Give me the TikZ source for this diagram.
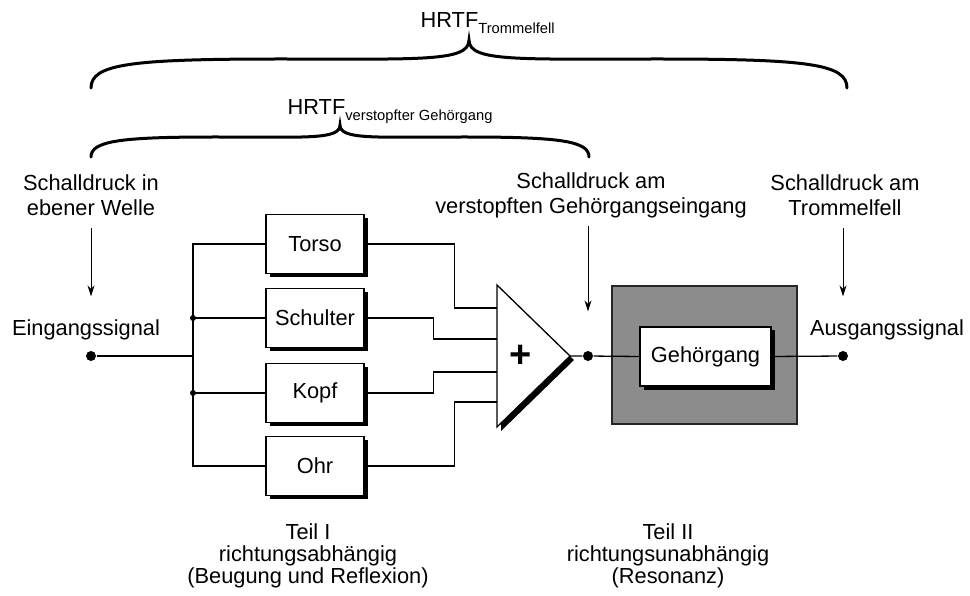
\documentclass[tikz,border=0pt]{standalone}
\usepackage{fontspec}
\setmainfont{Liberation Sans}
\usetikzlibrary{arrows.meta,shadows,positioning}
\tikzset{block/.style={rectangle,draw,fill=white,line width=1.3pt,minimum width=98pt,minimum height=59pt,inner sep=0pt,
            font=\fontsize{21.8}{25}\selectfont,drop shadow={shadow xshift=3.5pt,shadow yshift=-3.5pt,fill=black,opacity=1}},
         graybox/.style={rectangle,draw=black!85,fill=black!45,line width=1.3pt,minimum width=185pt,minimum height=138pt},
         caption/.style={align=center,inner sep=0pt,font=\fontsize{21.8}{25}\selectfont},
         undertext/.style={align=center,inner sep=0pt,font=\fontsize{21.8}{22}\selectfont},
         dot/.style={circle,fill=black,minimum size=10pt,inner sep=0pt},
         junction/.style={circle,fill=black,minimum size=6pt,inner sep=0pt},
         brace/.style={line width=3pt,line cap=round}
}

\begin{document}
\begin{tikzpicture}[x=1pt,y=-1pt,line width=1.3pt,>={Stealth[length=11pt,width=7pt]}]
\useasboundingbox (0,0) rectangle (970,596);

% Klammern oben
\node[caption,anchor=base west] (hrtf1) at (420,28) {HRTF\raisebox{-6pt}{\fontsize{14.7}{16}\selectfont Trommelfell}};
\draw[brace] (91,88) .. controls (91,64) and (130,59) .. (280,59) .. controls (420,59) and (469,62) .. (469,40)
             .. controls (469,62) and (518,59) .. (658,59) .. controls (808,59) and (847,64) .. (847,88);
\node[caption,anchor=base west] (hrtf2) at (287,115) {HRTF\raisebox{-6pt}{\fontsize{14.7}{16}\selectfont verstopfter Gehörgang}};
\draw[brace] (91,157) .. controls (91,141) and (120,137) .. (215,137) .. controls (305,137) and (340,140) .. (340,125)
             .. controls (340,140) and (375,137) .. (465,137) .. controls (560,137) and (589,141) .. (589,157);

% Beschriftungen
\node[caption] (schall1) at (91,195) {Schalldruck in\\ebener Welle};
\node[caption] (schall2) at (591,195) {Schalldruck am\\verstopften Gehörgangseingang};
\node[caption] (schall3) at (845,195) {Schalldruck am\\Trommelfell};
\node[caption] (eing) at (86,330) {Eingangssignal};
\node[caption] (aus) at (887,330) {Ausgangssignal};

% Teil I
\node[dot] (in) at (91,356) {};
\coordinate (bus) at (193,356);
\node[block] (torso) at (315,244) {Torso};
\node[block] (schulter) at (315,318) {Schulter};
\node[block] (kopf) at (315,393) {Kopf};
\node[block] (ohr) at (315,466) {Ohr};

\draw (in) -- (bus);
\draw (torso.west) -| (bus) |- (ohr.west);
\draw (schulter.west) -- (schulter.west -| bus) node[junction] {};
\draw (kopf.west) -- (kopf.west -| bus) node[junction] {};

% Summierer
\coordinate (t1) at (497,285);
\coordinate (tip) at (570,356);
\coordinate (t3) at (497,427);
\coordinate (e1) at (497,308);
\coordinate (e2) at (497,339);
\coordinate (e3) at (497,372);
\coordinate (e4) at (497,402);
\fill[black] ([shift={(4,4)}]t1) -- ([shift={(4,4)}]tip) -- ([shift={(4,4)}]t3) -- cycle;
\draw[fill=white] (t1) -- (tip) -- (t3) -- cycle;
\node[font=\bfseries\fontsize{38}{38}\selectfont,inner sep=0pt] (plus) at (521,356) {+};

\draw (torso.east) -- ++(90,0) |- (e1);
\draw (schulter.east) -- ++(69,0) |- (e2);
\draw (kopf.east) -- ++(69,0) |- (e3);
\draw (ohr.east) -- ++(90,0) |- (e4);

% Teil II
\node[graybox] (kanal) at (704.5,355) {};
\node[block,minimum width=131pt] (gang) at (705.5,356.5) {Gehörgang};
\node[dot] (mid) at (588,356) {};
\node[dot] (out) at (843,356) {};
\draw (tip) -- (mid) -- (gang.west);
\draw (gang.east) -- (out);

% Pfeile
\draw[->,line width=1pt,shorten <=12pt,shorten >=54pt] (schall1.south -| in) -- (in);
\draw[->,line width=1pt,shorten <=8pt,shorten >=39pt] (schall2.south -| mid) -- (mid);
\draw[->,line width=1pt,shorten <=12pt,shorten >=54pt] (schall3.south -| out) -- (out);

% unten
\node[undertext] (teil1) at (308,556) {Teil I\\richtungsabhängig\\(Beugung und Reflexion)};
\node[undertext] (teil2) at (668,556) {Teil II\\richtungsunabhängig\\(Resonanz)};
\end{tikzpicture}
\end{document}
